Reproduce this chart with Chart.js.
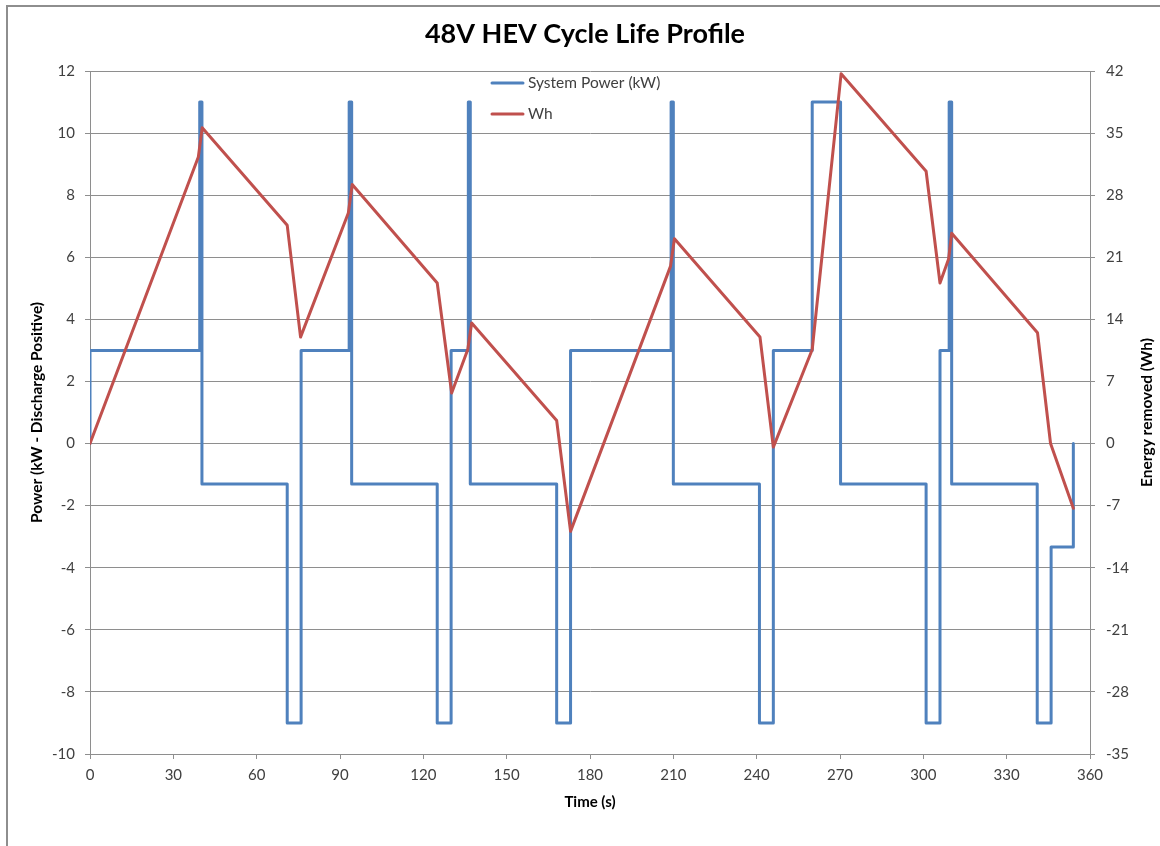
<!DOCTYPE html>
<html>
<head>
<meta charset="utf-8">
<title>48V HEV Cycle Life Profile</title>
<script src="https://cdn.jsdelivr.net/npm/chart.js@4.4.1/dist/chart.umd.min.js"></script>
<style>
  html, body { margin: 0; padding: 0; background: #fff; }
  #wrap { width: 1160px; height: 846px; }
</style>
</head>
<body>
<div id="wrap"><canvas id="profileChart" width="1160" height="846"></canvas></div>
<script>
// System power: time (s) where the level changes, and the level held from there (kW)
const powerTime = [0, 0, 39.5, 40.3, 71, 76, 93.3, 94.2, 125, 130, 136.2, 136.9, 168, 173,
                   209.2, 210, 241, 246, 260, 270.2, 301, 306, 309.3, 310.2, 341, 346, 354];
const powerKW   = [0, 3, 11, -1.3, -9, 3, 11, -1.3, -9, 3, 11, -1.3, -9, 3,
                   11, -1.3, -9, 3, 11, -1.3, -9, 3, 11, -1.3, -9, -3.33, 0];

// Energy removed: corner points of the Wh trace
const whTime  = [0, 39, 40.4, 71, 75.8, 93, 94.4, 125, 130.2, 136, 137.4, 168, 173,
                 209, 210.4, 241.2, 246, 260, 270.4, 301, 306, 309.1, 310.2, 341.1, 345.8, 354];
const whValue = [0, 32.3, 35.6, 24.6, 12.0, 26.0, 29.2, 18.1, 5.7, 10.6, 13.6, 2.6, -9.9,
                 20.0, 23.1, 12.0, -0.4, 10.6, 41.7, 30.7, 18.1, 20.8, 23.7, 12.5, 0, -7.3];

// axis ranges (min, max, step)
const timeAxis  = [0, 360, 30];
const powerAxis = [-10, 12, 2];
const whAxis    = [-35, 42, 7];

const GRID = '#8e8e8e';
const TICK_COLOR = '#404040';
const FONT = 'Lato, "Open Sans", sans-serif';

Chart.defaults.font.family = FONT;

// Excel-like outer frame
const chartFrame = {
    id: 'chartFrame',
    beforeDraw(chart) {
        const ctx = chart.ctx;
        ctx.save();
        ctx.fillStyle = '#fff';
        ctx.fillRect(0, 0, chart.width, chart.height);
        ctx.strokeStyle = GRID;
        ctx.lineWidth = 2;
        ctx.strokeRect(7, 6, chart.width + 20, chart.height + 20);
        ctx.restore();
    }
};

// legend stacked inside the plot, near the top
const legendInside = {
    id: 'legendInside',
    afterDatasetsDraw(chart) {
        const {ctx, chartArea} = chart;
        const x0 = chartArea.left + (chartArea.right - chartArea.left) * 0.402;
        ctx.save();
        chart.data.datasets.forEach(function (ds, i) {
            const y = chartArea.top + 12 + i * 31;
            ctx.strokeStyle = ds.borderColor;
            ctx.lineWidth = 3;
            ctx.lineCap = 'round';
            ctx.beginPath();
            ctx.moveTo(x0, y);
            ctx.lineTo(x0 + 31, y);
            ctx.stroke();
            ctx.fillStyle = TICK_COLOR;
            ctx.font = '15.5px ' + FONT;
            ctx.textBaseline = 'middle';
            ctx.textAlign = 'left';
            ctx.fillText(ds.label, x0 + 36, y);
        });
        ctx.restore();
    }
};

// right axis title, read bottom to top like the left one
const rightTitle = {
    id: 'rightTitle',
    afterDraw(chart) {
        const {ctx, chartArea} = chart;
        ctx.save();
        ctx.translate(chart.width - 13, (chartArea.top + chartArea.bottom) / 2);
        ctx.rotate(-Math.PI / 2);
        ctx.fillStyle = '#000';
        ctx.font = 'bold 15.5px ' + FONT;
        ctx.textAlign = 'center';
        ctx.textBaseline = 'middle';
        ctx.fillText('Energy removed (Wh)', 0, 0);
        ctx.restore();
    }
};

new Chart(document.getElementById('profileChart'), {
    type: 'line',
    data: {
        datasets: [{
            label: 'System Power (kW)',
            data: powerTime.map((t, i) => ({x: t, y: powerKW[i]})),
            yAxisID: 'y',
            borderColor: '#4F81BD',
            backgroundColor: '#4F81BD',
            borderWidth: 3,
            stepped: 'before',
            borderJoinStyle: 'round',
            borderCapStyle: 'round',
            pointRadius: 0,
            order: 1
        }, {
            label: 'Wh',
            data: whTime.map((t, i) => ({x: t, y: whValue[i]})),
            yAxisID: 'y2',
            borderColor: '#C0504D',
            backgroundColor: '#C0504D',
            borderWidth: 3,
            tension: 0,
            borderJoinStyle: 'round',
            borderCapStyle: 'round',
            pointRadius: 0,
            order: 0
        }]
    },
    options: {
        responsive: false,
        animation: false,
        layout: { padding: { left: 10, right: 0, top: 0, bottom: 0 } },
        plugins: {
            legend: { display: false },
            tooltip: { enabled: false },
            title: {
                display: true,
                text: '48V HEV Cycle Life Profile',
                color: '#000',
                font: { size: 27, weight: 'bold' },
                padding: { top: 18, bottom: 20.6 }
            }
        },
        scales: {
            x: {
                type: 'linear',
                min: timeAxis[0],
                max: timeAxis[1],
                ticks: { stepSize: timeAxis[2], color: TICK_COLOR, font: { size: 15 }, padding: 7 },
                grid: { drawOnChartArea: false, drawTicks: true, tickLength: 5, color: GRID },
                border: { color: GRID },
                title: {
                    display: true, text: 'Time (s)', color: '#000',
                    font: { size: 15, weight: 'bold' }, padding: { top: 0, bottom: 35 }
                },
                afterFit: function (scale) { scale.height = 92; }
            },
            y: {
                position: 'left',
                min: powerAxis[0],
                max: powerAxis[1],
                ticks: { stepSize: powerAxis[2], color: TICK_COLOR, font: { size: 15 }, padding: 10 },
                grid: { color: GRID, tickLength: 5 },
                border: { color: GRID },
                title: {
                    display: true, text: 'Power (kW - Discharge Positive)', color: '#000',
                    font: { size: 15.5, weight: 'bold' }, padding: { top: 18, bottom: 0 }
                },
                afterFit: function (scale) { scale.width = 80; }
            },
            y2: {
                position: 'right',
                min: whAxis[0],
                max: whAxis[1],
                ticks: { stepSize: whAxis[2], color: TICK_COLOR, font: { size: 15 }, padding: 11 },
                grid: { drawOnChartArea: false, tickLength: 5, color: GRID },
                border: { color: GRID },
                afterFit: function (scale) { scale.width = 70; }
            }
        }
    },
    plugins: [chartFrame, legendInside, rightTitle]
});
</script>
</body>
</html>
